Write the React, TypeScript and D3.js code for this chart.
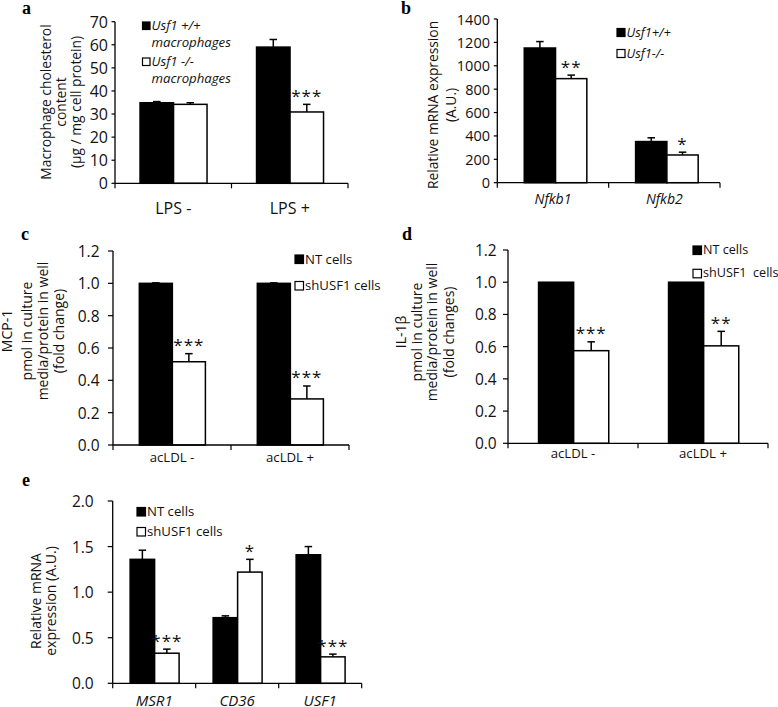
import React from "react";
import * as d3 from "d3";

// ---------- DATA ----------
// Panel a
const aCategories = ["LPS -", "LPS +"];
const aWildType = [34.9, 59.0];
const aWildTypeErr = [0.5, 3.3];
const aKnockout = [34.2, 30.9];
const aKnockoutErr = [0.7, 3.3];
const aStars = ["", "***"];
const aTicks = [0, 10, 20, 30, 40, 50, 60, 70];

// Panel b
const bCategories = ["Nfkb1", "Nfkb2"];
const bWildType = [1152, 352];
const bWildTypeErr = [55, 32];
const bKnockout = [890, 237];
const bKnockoutErr = [30, 24];
const bStars = ["**", "*"];
const bTicks = [0, 200, 400, 600, 800, 1000, 1200, 1400];

// Panel c
const cCategories = ["acLDL -", "acLDL +"];
const cNT = [1.0, 1.0];
const cNTErr = [0.003, 0.003];
const cSh = [0.515, 0.285];
const cShErr = [0.05, 0.08];
const cStars = ["***", "***"];
const cTicks = [0, 0.2, 0.4, 0.6, 0.8, 1.0, 1.2];

// Panel d
const dCategories = ["acLDL -", "acLDL +"];
const dNT = [1.0, 1.0];
const dNTErr = [0, 0];
const dSh = [0.575, 0.605];
const dShErr = [0.055, 0.09];
const dStars = ["***", "**"];
const dTicks = [0, 0.2, 0.4, 0.6, 0.8, 1.0, 1.2];

// Panel e
const eCategories = ["MSR1", "CD36", "USF1"];
const eNT = [1.36, 0.72, 1.41];
const eNTErr = [0.1, 0.02, 0.09];
const eSh = [0.33, 1.22, 0.29];
const eShErr = [0.045, 0.14, 0.03];
const eStars = ["***", "*", "***"];
const eTicks = [0, 0.5, 1.0, 1.5, 2.0];

const SANS = "'Open Sans', 'Liberation Sans', sans-serif";
const SERIF = "'Liberation Serif', 'DejaVu Serif', serif";
const INK = "#111";

type LegendLine = { text: string; y: number };
type LegendEntry = { fill: string; sqY: number; lines: LegendLine[] };

type PanelProps = {
  label: string;
  labelX: number;
  labelY: number;
  x0: number;
  x1: number;
  yTop: number;
  y0: number;
  ticks: number[];
  fmt: string;
  tickLen: number;
  tickGap: number;
  tickFont: number;
  categories: string[];
  black: number[];
  blackErr: number[];
  white: number[];
  whiteErr: number[];
  stars: string[];
  barOffset: number;
  barWidth: number;
  catY: number;
  catFont: number;
  catItalic: boolean;
  titleLines: { text: string; x: number }[];
  titleY: number;
  titleFont: number;
  legendX: number;
  legendSq: number;
  legendFont: number;
  legendItalic: boolean;
  legend: LegendEntry[];
};

function Panel(p: PanelProps) {
  const yMax = p.ticks[p.ticks.length - 1];
  const y = d3.scaleLinear().domain([0, yMax]).range([p.y0, p.yTop]);
  const x = d3.scaleBand<string>().domain(p.categories).range([p.x0, p.x1]);
  const bw = x.bandwidth();
  const w = p.barWidth * bw;
  const fmt = d3.format(p.fmt);
  const cap = 7.5;
  const boundaries = d3.range(p.categories.length + 1).map((i) => p.x0 + i * bw);

  return (
    <g>
      <text x={p.labelX} y={p.labelY} fontFamily={SERIF} fontWeight="bold" fontSize={18} fill="#000">
        {p.label}
      </text>

      {/* y title */}
      {p.titleLines.map((t, i) => (
        <text
          key={i}
          transform={`translate(${t.x},${p.titleY}) rotate(-90)`}
          textAnchor="middle"
          dominantBaseline="central"
          fontFamily={SANS}
          fontSize={p.titleFont}
          fill={INK}
        >
          {t.text}
        </text>
      ))}

      {/* bars */}
      {p.categories.map((c, i) => {
        const bx = (x(c) as number) + p.barOffset * bw;
        const wx = bx + w;
        const bcx = bx + w / 2;
        const wcx = wx + w / 2;
        const bTopErr = y(p.black[i] + p.blackErr[i]);
        const wTopErr = y(p.white[i] + p.whiteErr[i]);
        return (
          <g key={c}>
            {p.blackErr[i] > 0 && (
              <g stroke="#000" strokeWidth={1.5}>
                <line x1={bcx} x2={bcx} y1={y(p.black[i])} y2={bTopErr} />
                <line x1={bcx - cap / 2} x2={bcx + cap / 2} y1={bTopErr} y2={bTopErr} />
              </g>
            )}
            {p.whiteErr[i] > 0 && (
              <g stroke="#000" strokeWidth={1.5}>
                <line x1={wcx} x2={wcx} y1={y(p.white[i])} y2={wTopErr} />
                <line x1={wcx - cap / 2} x2={wcx + cap / 2} y1={wTopErr} y2={wTopErr} />
              </g>
            )}
            <rect x={bx} y={y(p.black[i])} width={w} height={p.y0 - y(p.black[i])} fill="#000" stroke="#000" strokeWidth={1.5} />
            <rect x={wx} y={y(p.white[i])} width={w} height={p.y0 - y(p.white[i])} fill="#fff" stroke="#000" strokeWidth={1.5} />
            {p.stars[i] && (
              <text
                x={wcx}
                y={wTopErr - 2.5}
                textAnchor="middle"
                fontFamily={SANS}
                fontSize={17}
                letterSpacing={1}
                fill={INK}
              >
                {p.stars[i]}
              </text>
            )}
            <text
              x={(x(c) as number) + bw / 2}
              y={p.catY}
              textAnchor="middle"
              fontFamily={SANS}
              fontSize={p.catFont}
              fontStyle={p.catItalic ? "italic" : "normal"}
              fill={INK}
            >
              {c}
            </text>
          </g>
        );
      })}

      {/* y axis */}
      <line x1={p.x0} x2={p.x0} y1={p.yTop} y2={p.y0} stroke="#000" strokeWidth={1.3} />
      {p.ticks.map((t) => (
        <g key={t}>
          <line x1={p.x0 - p.tickLen} x2={p.x0} y1={y(t)} y2={y(t)} stroke="#000" strokeWidth={1.2} />
          <text
            x={p.x0 - p.tickLen - p.tickGap}
            y={y(t)}
            textAnchor="end"
            dominantBaseline="central"
            fontFamily={SANS}
            fontSize={p.tickFont}
            fill={INK}
          >
            {fmt(t)}
          </text>
        </g>
      ))}

      {/* x axis */}
      <line x1={p.x0} x2={p.x1} y1={p.y0} y2={p.y0} stroke="#000" strokeWidth={1.3} />
      {boundaries.map((bx, i) => (
        <line key={i} x1={bx} x2={bx} y1={p.y0} y2={p.y0 + 5} stroke="#000" strokeWidth={1.2} />
      ))}

      {/* legend */}
      {p.legend.map((e, i) => (
        <g key={i}>
          <rect
            x={p.legendX}
            y={e.sqY}
            width={p.legendSq}
            height={p.legendSq}
            fill={e.fill}
            stroke="#000"
            strokeWidth={1.2}
          />
          {e.lines.map((l, j) => (
            <text
              key={j}
              x={p.legendX + p.legendSq + 1.5}
              y={l.y}
              fontFamily={SANS}
              fontSize={p.legendFont}
              fontStyle={p.legendItalic ? "italic" : "normal"}
              fill={INK}
              style={{ whiteSpace: "pre" }}
            >
              {l.text}
            </text>
          ))}
        </g>
      ))}
    </g>
  );
}

export default function App() {
  return (
    <svg
      width={778}
      height={707}
      viewBox="0 0 778 707"
      style={{ position: "absolute", left: 0, top: 0, background: "#fff" }}
    >
      <rect width={778} height={707} fill="#fff" />
      <Panel
        label="a"
        labelX={22}
        labelY={14}
        x0={115}
        x1={348}
        yTop={21.7}
        y0={183.3}
        ticks={aTicks}
        fmt="d"
        tickLen={3.5}
        tickGap={3.5}
        tickFont={16}
        categories={aCategories}
        black={aWildType}
        blackErr={aWildTypeErr}
        white={aKnockout}
        whiteErr={aKnockoutErr}
        stars={aStars}
        barOffset={0.215}
        barWidth={0.2875}
        catY={214}
        catFont={16}
        catItalic={false}
        titleLines={[
          { text: "Macrophage cholesterol", x: 45 },
          { text: "content", x: 60 },
          { text: "(µg / mg cell protein)", x: 75 },
        ]}
        titleY={102}
        titleFont={13.8}
        legendX={142.5}
        legendSq={7.5}
        legendFont={13.2}
        legendItalic={true}
        legend={[
          { fill: "#000", sqY: 22, lines: [{ text: "Usf1 +/+", y: 29.5 }, { text: "macrophages", y: 47 }] },
          { fill: "#fff", sqY: 58, lines: [{ text: "Usf1 -/-", y: 65.5 }, { text: "macrophages", y: 83 }] },
        ]}
      />
      <Panel
        label="b"
        labelX={401}
        labelY={14}
        x0={497.3}
        x1={720}
        yTop={19}
        y0={182.7}
        ticks={bTicks}
        fmt="d"
        tickLen={3.5}
        tickGap={3.8}
        tickFont={14.5}
        categories={bCategories}
        black={bWildType}
        blackErr={bWildTypeErr}
        white={bKnockout}
        whiteErr={bKnockoutErr}
        stars={bStars}
        barOffset={0.242}
        barWidth={0.281}
        catY={204}
        catFont={14}
        catItalic={true}
        titleLines={[
          { text: "Relative mRNA expression", x: 432.7 },
          { text: "(A.U.)", x: 450 },
        ]}
        titleY={105}
        titleFont={13.8}
        legendX={617}
        legendSq={8}
        legendFont={12.8}
        legendItalic={true}
        legend={[
          { fill: "#000", sqY: 28.5, lines: [{ text: "Usf1+/+", y: 36.5 }] },
          { fill: "#fff", sqY: 49.5, lines: [{ text: "Usf1-/-", y: 57.5 }] },
        ]}
      />
      <Panel
        label="c"
        labelX={21}
        labelY={240}
        x0={113}
        x1={349}
        yTop={251}
        y0={445}
        ticks={cTicks}
        fmt=".1f"
        tickLen={5}
        tickGap={8.5}
        tickFont={15.5}
        categories={cCategories}
        black={cNT}
        blackErr={cNTErr}
        white={cSh}
        whiteErr={cShErr}
        stars={cStars}
        barOffset={0.223}
        barWidth={0.28}
        catY={462}
        catFont={13.2}
        catItalic={false}
        titleLines={[
          { text: "MCP-1", x: 6 },
          { text: "pmol in culture", x: 26.7 },
          { text: "media/protein in well", x: 42 },
          { text: "(fold change)", x: 58 },
        ]}
        titleY={331}
        titleFont={14}
        legendX={295}
        legendSq={8.5}
        legendFont={13.2}
        legendItalic={false}
        legend={[
          { fill: "#000", sqY: 255, lines: [{ text: "NT cells", y: 263.5 }] },
          { fill: "#fff", sqY: 281.5, lines: [{ text: "shUSF1 cells", y: 290 }] },
        ]}
      />
      <Panel
        label="d"
        labelX={402}
        labelY={240}
        x0={508}
        x1={768}
        yTop={250}
        y0={443.3}
        ticks={dTicks}
        fmt=".1f"
        tickLen={5}
        tickGap={6.3}
        tickFont={15.5}
        categories={dCategories}
        black={dNT}
        blackErr={dNTErr}
        white={dSh}
        whiteErr={dShErr}
        stars={dStars}
        barOffset={0.235}
        barWidth={0.27}
        catY={458}
        catFont={13.2}
        catItalic={false}
        titleLines={[
          { text: "IL-1β", x: 400.7 },
          { text: "pmol in culture", x: 416 },
          { text: "media/protein in well", x: 431.7 },
          { text: "(fold changes)", x: 448.3 },
        ]}
        titleY={332}
        titleFont={14}
        legendX={693}
        legendSq={8.5}
        legendFont={12.6}
        legendItalic={false}
        legend={[
          { fill: "#000", sqY: 246, lines: [{ text: "NT cells", y: 254 }] },
          { fill: "#fff", sqY: 269.3, lines: [{ text: "shUSF1  cells", y: 277 }] },
        ]}
      />
      <Panel
        label="e"
        labelX={22}
        labelY={486}
        x0={112.7}
        x1={361.7}
        yTop={501}
        y0={683.3}
        ticks={eTicks}
        fmt=".1f"
        tickLen={5}
        tickGap={14}
        tickFont={15.5}
        categories={eCategories}
        black={eNT}
        blackErr={eNTErr}
        white={eSh}
        whiteErr={eShErr}
        stars={eStars}
        barOffset={0.21}
        barWidth={0.295}
        catY={706}
        catFont={15}
        catItalic={true}
        titleLines={[
          { text: "Relative mRNA", x: 35 },
          { text: "expression (A.U.)", x: 50 },
        ]}
        titleY={601}
        titleFont={14}
        legendX={137}
        legendSq={8.5}
        legendFont={13.2}
        legendItalic={false}
        legend={[
          { fill: "#000", sqY: 507.5, lines: [{ text: "NT cells", y: 516 }] },
          { fill: "#fff", sqY: 527.5, lines: [{ text: "shUSF1 cells", y: 536 }] },
        ]}
      />
    </svg>
  );
}
